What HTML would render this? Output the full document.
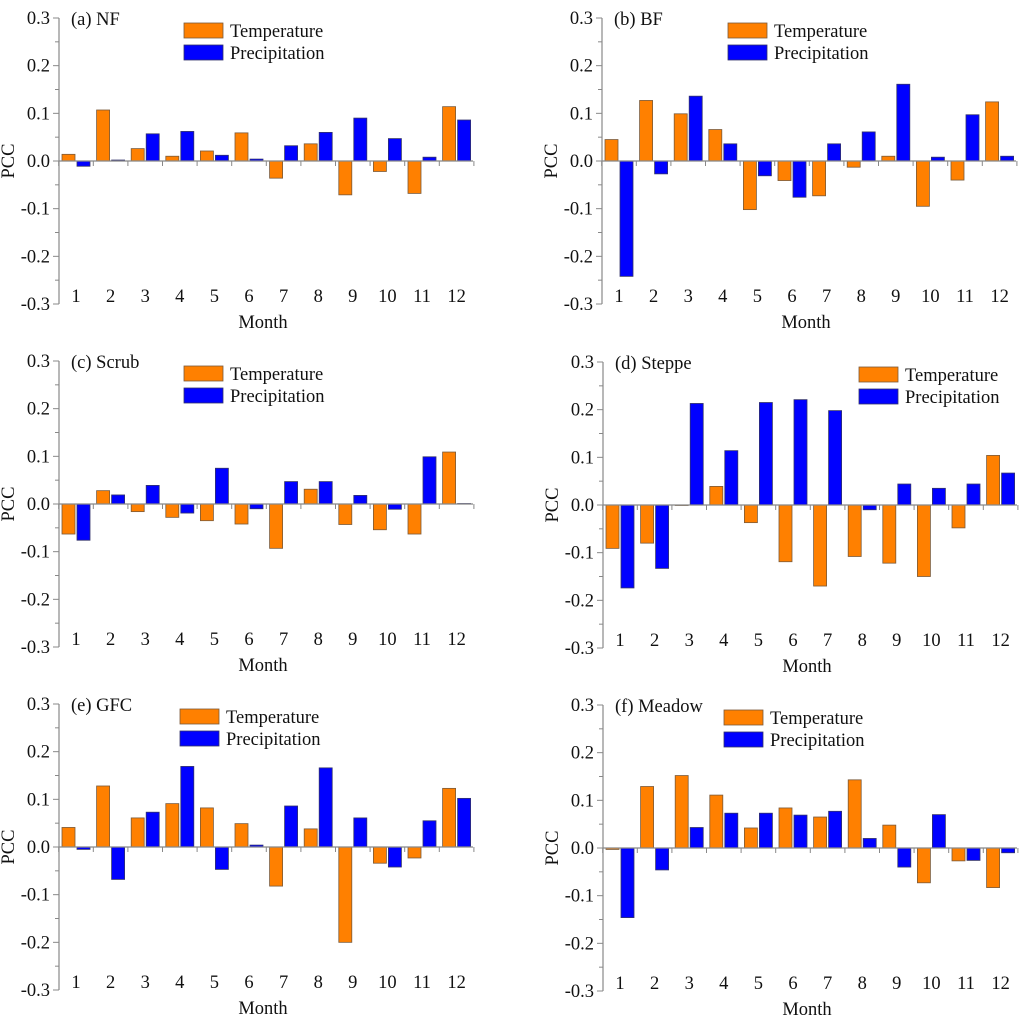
<!DOCTYPE html>
<html><head><meta charset="utf-8"><style>
html,body{margin:0;padding:0;background:#fff;}
svg{display:block;font-family:"Liberation Serif",serif;}
</style></head><body>
<svg id="chart" width="1024" height="1022" viewBox="0 0 1024 1022" xmlns="http://www.w3.org/2000/svg"></svg>
<script>
const months = ["1","2","3","4","5","6","7","8","9","10","11","12"];
const yTicks = [0.3,0.2,0.1,0.0,-0.1,-0.2,-0.3];
const yTickLabels = ["0.3","0.2","0.1","0.0","-0.1","-0.2","-0.3"];
const titles = ["(a) NF","(b) BF","(c) Scrub","(d) Steppe","(e) GFC","(f) Meadow"];
const tempNF = [0.014,0.107,0.026,0.010,0.021,0.059,-0.036,0.036,-0.071,-0.022,-0.068,0.114];
const precNF = [-0.011,0.002,0.057,0.062,0.012,0.004,0.032,0.060,0.090,0.047,0.008,0.086];
const tempBF = [0.045,0.127,0.099,0.066,-0.102,-0.041,-0.073,-0.013,0.010,-0.095,-0.040,0.124];
const precBF = [-0.242,-0.027,0.136,0.036,-0.031,-0.076,0.036,0.061,0.161,0.008,0.097,0.010];
const tempScrub = [-0.063,0.028,-0.016,-0.028,-0.035,-0.042,-0.093,0.031,-0.043,-0.054,-0.063,0.109];
const precScrub = [-0.076,0.019,0.039,-0.019,0.075,-0.010,0.047,0.047,0.018,-0.011,0.099,0.001];
const tempSteppe = [-0.091,-0.080,0.0,0.039,-0.037,-0.119,-0.170,-0.108,-0.122,-0.150,-0.048,0.104];
const precSteppe = [-0.174,-0.133,0.213,0.114,0.215,0.221,0.198,-0.010,0.044,0.035,0.044,0.067];
const tempGFC = [0.041,0.128,0.061,0.091,0.082,0.049,-0.082,0.038,-0.200,-0.034,-0.023,0.123];
const precGFC = [-0.005,-0.068,0.073,0.169,-0.047,0.004,0.086,0.166,0.061,-0.042,0.055,0.102];
const tempMeadow = [-0.003,0.129,0.152,0.111,0.042,0.084,0.065,0.143,0.048,-0.073,-0.027,-0.083];
const precMeadow = [-0.146,-0.046,0.043,0.073,0.073,0.069,0.077,0.020,-0.040,0.070,-0.026,-0.010];

const temps=[tempNF,tempBF,tempScrub,tempSteppe,tempGFC,tempMeadow];
const precs=[precNF,precBF,precScrub,precSteppe,precGFC,precMeadow];
const panelNames=["nf","bf","scrub","steppe","gfc","meadow"];
const origins=[[59,18],[602,18],[59,361],[603,362],[59,704],[603,705]];
const legendX=[184,728,184,859,180,724];
const FS=18.5;
const NS="http://www.w3.org/2000/svg";
const svg=document.getElementById('chart');
function mk(tag,attrs,parent){const e=document.createElementNS(NS,tag);for(const k in attrs)e.setAttribute(k,attrs[k]);(parent||svg).appendChild(e);return e;}

for(let p=0;p<6;p++){
  const [x0,yTop]=origins[p];
  const H=286, W=414;
  const yScale=v=>yTop+(0.3-v)/0.6*H;
  const xScale=i=>x0+17+i*34.6;
  const g=mk('g',{});
  
  
  const y0=yScale(0);
  for(let i=0;i<12;i++){
    const c=xScale(i);
    const t=temps[p][i], pr=precs[p][i];
    const rt=mk('rect',{x:c-14,y:Math.min(yScale(t),y0),width:13,height:Math.max(Math.abs(yScale(t)-y0),0.5),fill:'#ff8000',stroke:'#7a5a3a','stroke-width':0.8},g);
    
    
    const rp=mk('rect',{x:c+1,y:Math.min(yScale(pr),y0),width:13,height:Math.max(Math.abs(yScale(pr)-y0),0.5),fill:'#0000ff',stroke:'#33336a','stroke-width':0.8},g);
    
    
    const ml=mk('text',{x:c,y:yTop+H-2,'font-size':FS,'text-anchor':'middle',fill:'#111'},g);
    ml.textContent=months[i];
    
    
  }
  const za=mk('line',{x1:x0,x2:x0+W,y1:y0,y2:y0,stroke:'#888','stroke-width':1.2},g);
  
  
  for(let i=0;i<=12;i++){
    const tx=x0+17-17.3+i*34.6;
    mk('line',{x1:tx,x2:tx,y1:y0,y2:y0+5,stroke:'#888','stroke-width':1},g);
  }
  const ya=mk('line',{x1:x0,x2:x0,y1:yTop,y2:yTop+H,stroke:'#888','stroke-width':1.2},g);
  
  
  for(let k=0;k<yTicks.length;k++){
    const ty=yScale(yTicks[k]);
    mk('line',{x1:x0-6,x2:x0,y1:ty,y2:ty,stroke:'#888','stroke-width':1},g);
    if(k<yTicks.length-1){const my=yScale(yTicks[k]-0.05);mk('line',{x1:x0-4,x2:x0,y1:my,y2:my,stroke:'#888','stroke-width':1},g);}
    const tl=mk('text',{x:x0-9,y:ty+6,'font-size':FS,'text-anchor':'end',fill:'#111'},g);
    tl.textContent=yTickLabels[k];
    
    
  }
  const yt=mk('text',{transform:`translate(${x0-45},${y0}) rotate(-90)`,'font-size':FS,'text-anchor':'middle',fill:'#111'},g);
  yt.textContent='PCC';
  
  
  const xt=mk('text',{x:x0+W/2-3,y:yTop+H+24,'font-size':FS,'text-anchor':'middle',fill:'#111'},g);
  xt.textContent='Month';
  
  
  const tt=mk('text',{x:x0+12,y:yTop+7,'font-size':FS,fill:'#111'},g);
  tt.textContent=titles[p];
  
  
  const lx=legendX[p];
  const lg=mk('g',{},g);
  
  
  mk('rect',{x:lx,y:yTop+5,width:39,height:15,fill:'#ff8000',stroke:'#7a5a3a','stroke-width':0.8},lg);
  const l1=mk('text',{x:lx+46,y:yTop+19,'font-size':FS,fill:'#111'},lg);
  l1.textContent='Temperature';
  
  
  mk('rect',{x:lx,y:yTop+27,width:39,height:15,fill:'#0000ff',stroke:'#33336a','stroke-width':0.8},lg);
  const l2=mk('text',{x:lx+46,y:yTop+41,'font-size':FS,fill:'#111'},lg);
  l2.textContent='Precipitation';
  
  
}
</script>
</body></html>
